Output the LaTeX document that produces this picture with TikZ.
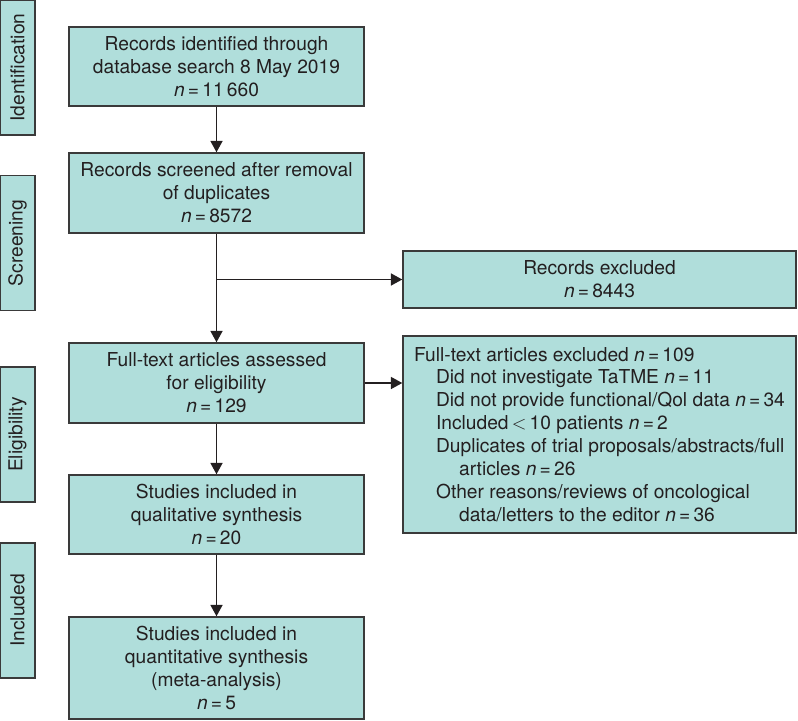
\documentclass[tikz,border=0pt]{standalone}
\usepackage{fontspec}
\setmainfont{TeX Gyre Heros}
\usetikzlibrary{arrows.meta}
\definecolor{boxfill}{HTML}{B0DEDB}
\definecolor{boxline}{HTML}{3A3A3A}
\definecolor{inktext}{HTML}{231F20}
\newcommand{\nval}[1]{\textit{n}\,=\,#1}

\begin{document}
\begin{tikzpicture}[x=0.75pt,y=-0.75pt,
                    font=\fontsize{14.4}{17.2}\selectfont,
                    flowbox/.style={draw=boxline, fill=boxfill, line width=1.1pt,
                                    text=inktext, align=center, inner sep=0pt},
                    mainbox/.style={flowbox, minimum width=221.25pt},
                    stagebox/.style={flowbox, rotate=90, minimum width=101.25pt,
                                     minimum height=26.25pt},
                    flowarrow/.style={draw=inktext, line width=1.1pt,
                                      -{Triangle[length=8.5pt,width=9pt]}}]

\useasboundingbox (0,0) rectangle (798,720);

%stages on the left
\node [stagebox] (ident)  at (17.5,67.5)  {Identification};
\node [stagebox] (screen) at (17.5,243)   {Screening};
\node [stagebox] (elig)   at (17.5,434.5) {Eligibility};
\node [stagebox] (incl)   at (17.5,610.5) {Included};

%main column
\node [mainbox, minimum height=59.25pt] (found) at (216.5,66.5)
  {Records identified through\\database search 8 May 2019\\\nval{11\,660}};
\node [mainbox, minimum height=60pt] (screened) at (216.5,193)
  {Records screened after removal\\of duplicates\\\nval{8572}};
\node [mainbox, minimum height=60pt] (fulltext) at (216.5,383)
  {Full-text articles assessed\\for eligibility\\\nval{129}};
\node [mainbox, minimum height=59.25pt] (qualit) at (216.5,514.5)
  {Studies included in\\qualitative synthesis\\\nval{20}};
\node [mainbox, minimum height=76.5pt] (quantit) at (216.5,668)
  {Studies included in\\quantitative synthesis\\(meta-analysis)\\\nval{5}};

%exclusions on the right
\node [flowbox, minimum width=294.75pt, minimum height=42.75pt] (recexcl) at (599.5,279.5)
  {Records excluded\\\nval{8443}};
\node [flowbox, minimum width=294.75pt, minimum height=147.75pt, align=left] (ftexcl) at (599.5,434.5)
  {Full-text articles excluded \nval{109}\\
   \hspace*{16.5pt}Did not investigate TaTME \nval{11}\\
   \hspace*{16.5pt}Did not provide functional/Qol data \nval{34}\\
   \hspace*{16.5pt}Included\,$<$\,10 patients \nval{2}\\
   \hspace*{16.5pt}Duplicates of trial proposals/abstracts/full\\
   \hspace*{33.75pt}articles \nval{26}\\
   \hspace*{16.5pt}Other reasons/reviews of oncological\\
   \hspace*{33.75pt}data/letters to the editor \nval{36}};

%connectors
\coordinate (split) at (screened.south |- recexcl.west);
\draw [flowarrow] (found) -- (screened);
\draw [flowarrow] (screened) -- (fulltext);
\draw [flowarrow] (split) -- (recexcl.west);
\draw [flowarrow] (fulltext.east) -- (fulltext.east -| ftexcl.west);
\draw [flowarrow] (fulltext) -- (qualit);
\draw [flowarrow] (qualit) -- (quantit);

\end{tikzpicture}
\end{document}
